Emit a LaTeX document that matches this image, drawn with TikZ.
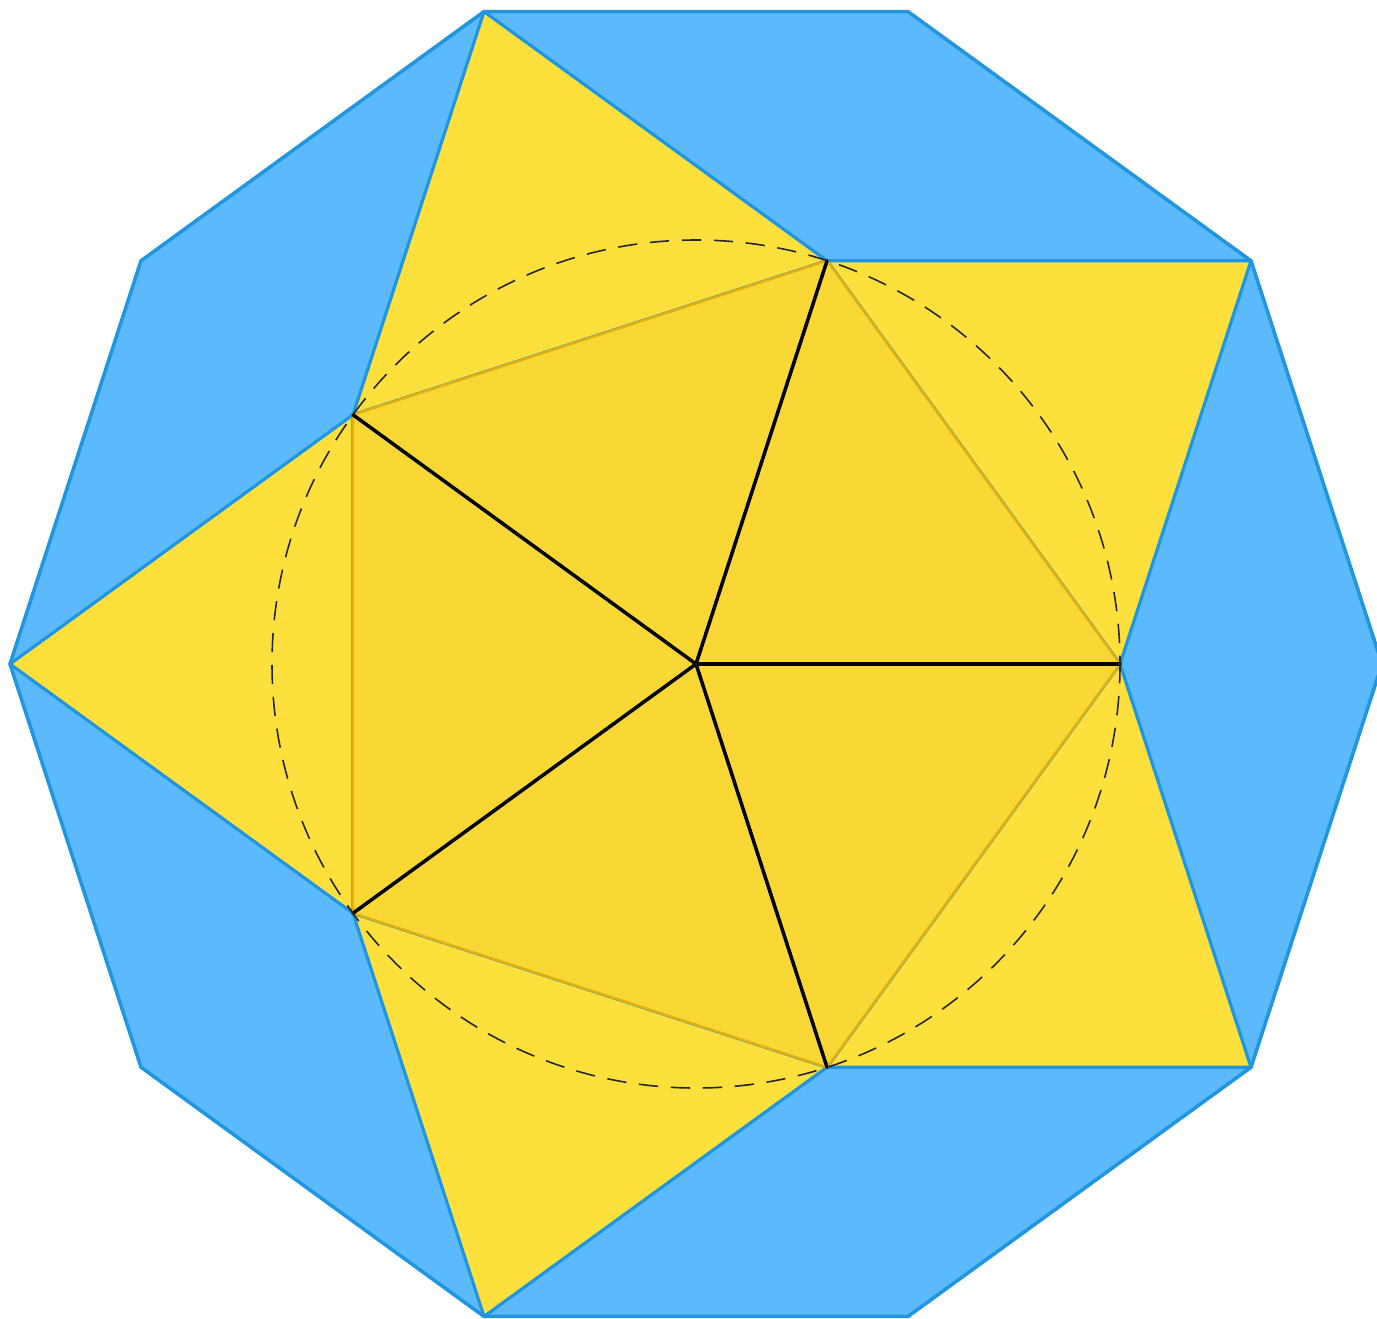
\documentclass[tikz,border=0pt]{standalone}
\usepackage{tikz}
\usetikzlibrary{calc}
\definecolor{fdSky}{HTML}{5CB9FC}
\definecolor{fdSkyEdge}{HTML}{2196E0}
\definecolor{fdSun}{HTML}{FDE03B}
\definecolor{fdSunDeep}{HTML}{F9D836}
\definecolor{fdCrease}{HTML}{E4B10C}
\tikzset{
  decagon/.style={fill=fdSky, draw=fdSkyEdge, line width=1pt, line join=round},
  flap/.style={fill=fdSun, draw=fdSkyEdge, line width=0.9pt, line join=round},
  facet/.style={fill=fdSunDeep},
  crease/.style={draw=fdCrease, line width=0.7pt, line join=round},
  spoke/.style={draw=black, line width=1pt, line cap=round},
  guide/.style={draw=black!85, line width=0.45pt, dash pattern=on 5.5pt off 3.6pt}
}
\begin{document}
\begin{tikzpicture}[x=0.01cm, y=-0.01cm]
  \useasboundingbox (0,0) rectangle (1377,1318);
  \coordinate (O) at (696,664);
  % corners of the decagon and of the pentagon
  \foreach \k in {0,...,9}
    \coordinate (d\k) at ($(O)+({36*\k}:686)$);
  \foreach \k in {0,...,4}
    \coordinate (p\k) at ($(O)+({72*\k}:424)$);

  \draw[decagon] (d0) -- (d1) -- (d2) -- (d3) -- (d4) -- (d5) -- (d6) -- (d7) -- (d8) -- (d9) -- cycle;

  % folded-out flaps
  \draw[flap] (p0) -- (d1) -- (p1) -- cycle;
  \draw[flap] (p1) -- (d3) -- (p2) -- cycle;
  \draw[flap] (p2) -- (d5) -- (p3) -- cycle;
  \draw[flap] (p3) -- (d7) -- (p4) -- cycle;
  \draw[flap] (p4) -- (d9) -- (p0) -- cycle;

  % pentagon base
  \fill[facet] (p0) -- (p1) -- (p2) -- (p3) -- (p4) -- cycle;
  \draw[crease] (p0) -- (p1) -- (p2) -- (p3) -- (p4) -- cycle;
  \foreach \k in {0,...,4}
    \draw[spoke] (O) -- (p\k);

  \draw[guide] (O) circle (424);
\end{tikzpicture}
\end{document}
